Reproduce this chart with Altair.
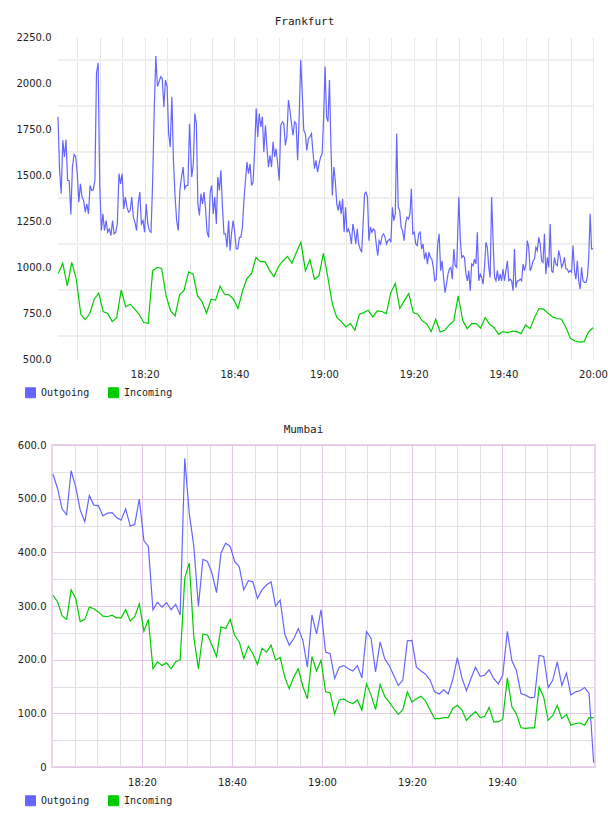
import altair as alt
import pandas as pd

BLUE = "#6666ff"
GREEN = "#00cc00"
DAY = "2024-05-14"

# ---------------- Frankfurt (20 s samples outgoing, 1 min incoming) ----------------
fra_out_q1 = [1816, 1525, 1398, 1689, 1598, 1692, 1470, 1470, 1285, 1543, 1612, 1601, 1507, 1352,
              1452, 1380, 1361, 1298, 1343, 1289, 1443, 1416, 1420, 1470, 2052, 2110, 1452, 1198,
              1289, 1198, 1252, 1189, 1207, 1170, 1252, 1180, 1189, 1234, 1507, 1452, 1507, 1316,
              1380, 1325, 1298, 1307, 1380, 1270, 1243, 1198, 1343, 1407, 1234, 1252, 1189, 1343,
              1234, 1198, 1189, 1452, 1852, 2147, 1980, 2007, 2034, 2025, 1870, 2016, 1980, 1725,
              1652, 1925, 1580, 1380, 1252, 1198, 1416, 1489, 1543, 1425, 1443, 1443, 1779]
fra_out_q2 = [1489, 1561, 1834, 1780, 1343, 1280, 1398, 1343, 1407, 1316, 1189, 1161, 1407, 1443,
              1289, 1380, 1234, 1489, 1416, 1525, 1325, 1180, 1180, 1107, 1252, 1089, 1189, 1252,
              1189, 1098, 1098, 1161, 1161, 1216, 1361, 1470, 1570, 1507, 1561, 1443, 1461, 1634,
              1861, 1707, 1834, 1761, 1816, 1625, 1770, 1652, 1543, 1607, 1543, 1680, 1598, 1643,
              1561, 1470, 1770, 1789, 1780, 1661, 1707, 1907, 1852, 1780, 1716, 1789, 1780, 1580,
              1816, 2125, 1943, 1743, 1725, 1634, 1698, 1707, 1725, 1625, 1534, 1580, 1516, 1561, 1598]
fra_out_q3 = [1616, 1816, 2089, 1816, 1789, 2016, 1670, 1389, 1543, 1470, 1343, 1307, 1361, 1289,
              1370, 1189, 1325, 1189, 1207, 1180, 1125, 1234, 1189, 1125, 1207, 1125, 1098, 1080,
              1234, 1398, 1407, 1380, 1143, 1216, 1189, 1207, 1198, 1125, 1061, 1143, 1125, 1170,
              1180, 1161, 1125, 1143, 1152, 1134, 1325, 1252, 1289, 1725, 1325, 1307, 1216, 1198,
              1143, 1234, 1270, 1261, 1289, 1425, 1180, 1189, 1125, 1116, 1180, 1189, 1098, 1125,
              1043, 1080, 1016, 1080, 1052, 1043, 998, 925, 934, 1125, 1180, 980, 1034, 943, 861,
              907, 961, 989, 998, 934, 1098, 1007, 998]
fra_out_q4 = [1380, 1161, 1052, 1061, 1052, 961, 925, 980, 871, 1016, 1007, 1043, 1016, 1189, 925,
              961, 943, 907, 998, 1134, 1107, 998, 943, 1380, 1143, 943, 925, 980, 925, 961, 925,
              989, 925, 980, 1034, 925, 934, 925, 871, 1098, 889, 925, 925, 934, 925, 1016, 980,
              1016, 1143, 1107, 980, 998, 1034, 1043, 1107, 1089, 1161, 1125, 1034, 1025, 1180,
              961, 1052, 998, 1234, 980, 971, 1052, 1016, 1007, 1089, 1052, 998, 1016, 1052, 989,
              989, 971, 980, 971, 1116, 980, 934, 1034, 925, 880, 998, 925, 916, 916, 943, 1052,
              1289, 1098, 1100]
fra_out_spans = [("18:00:40", "18:30:00"), ("18:30:30", "18:59:15"),
                 ("18:59:35", "19:29:36"), ("19:30:04", "20:00:00")]

fra_in = [965, 1021, 898, 1025, 934, 743, 714, 747, 825, 858, 758, 747, 703, 725, 874, 783, 798,
          771, 743, 698, 694, 980, 998, 992, 843, 761, 734, 849, 874, 974,
          961, 843, 812, 749, 825, 820, 896, 852, 849, 825, 774, 871, 938, 965, 1052, 1029, 1029,
          983, 947, 1003, 1034, 1058, 1020, 1080, 1134, 980, 1040, 934, 952, 1074,
          943, 798, 725, 703, 674, 694, 656, 743, 752, 765, 729, 761, 758, 747, 861, 911, 774,
          816, 856, 752, 743, 707, 692, 649, 716, 647, 656, 685, 707,
          843, 710, 665, 692, 692, 667, 725, 689, 670, 634, 649, 643, 652, 649, 638, 685, 665,
          725, 774, 771, 749, 729, 720, 716, 670, 612, 598, 592, 594, 647, 670]
fra_in_span = ("18:00:44", "20:00:00")
fra_window = ("18:00:40", "20:00:00")
fra_grid_levels = [625, 875, 1125, 1375, 1625, 1875, 2125]

# ---------------- Mumbai (1 min samples) ----------------
mum_out = [546, 519, 481, 470, 552, 522, 479, 457, 506, 488, 487, 468, 473, 474, 465, 460, 481,
           449, 452, 499, 422, 411, 293, 307, 298, 306, 293, 303, 283, 575, 473, 411, 299, 387,
           383, 361, 325, 399, 417, 411, 383, 373, 330, 347, 345, 314, 330, 339, 345, 300, 311,
           248, 227, 239, 258,
           236, 186, 283, 248, 293, 214, 211, 165, 186, 189, 183, 179, 189, 166, 252, 240, 177,
           233, 202, 189, 171, 152, 162, 235, 236, 186, 179, 173, 162, 140, 136, 144, 136, 163,
           204, 166, 142, 165, 186, 169, 171, 181, 165, 155, 171, 253, 198, 180, 137, 134, 129,
           130, 208, 206, 148, 162, 196, 152, 175, 134, 140, 142, 148, 137, 8]
mum_in = [320, 308, 282, 275, 330, 314, 271, 275, 298, 295, 289, 281, 280, 283, 278, 278, 293,
          272, 280, 304, 253, 275, 183, 196, 189, 194, 183, 196, 200, 352, 380, 242, 183, 248,
          246, 227, 206, 261, 258, 275, 245, 233, 202, 225, 211, 191, 221, 214, 227, 199, 204,
          168, 146, 168, 183,
          150, 127, 206, 179, 199, 140, 138, 99, 125, 127, 121, 118, 125, 106, 155, 134, 107,
          154, 132, 121, 109, 98, 107, 140, 121, 127, 132, 123, 106, 90, 90, 92, 92, 109, 115,
          106, 87, 96, 103, 92, 94, 111, 84, 84, 89, 166, 112, 99, 73, 72, 73, 73, 149, 130, 87,
          96, 115, 90, 98, 78, 81, 82, 78, 92, 92]
mum_span = ("18:00:13", "20:00:22")

SERIES = ["Outgoing", "Incoming"]


def stamp(hms):
    return pd.Timestamp(f"{DAY} {hms}")


def series_frame(values, span, name):
    times = pd.date_range(stamp(span[0]), stamp(span[1]), periods=len(values)).round("s")
    return pd.DataFrame({"time": times, "value": values, "series": name})


def dt(h, m, s=0):
    return alt.DateTime(year=2024, month=5, date=14, hours=h, minutes=m, seconds=s)


def five_min_ticks(first, last):
    out = []
    t = first
    while t <= last:
        out.append(dt(t // 60, t % 60))
        t += 5
    return out


fra_df = pd.concat(
    [series_frame(v, s, "Outgoing") for v, s in
     zip([fra_out_q1, fra_out_q2, fra_out_q3, fra_out_q4], fra_out_spans)]
    + [series_frame(fra_in, fra_in_span, "Incoming")],
    ignore_index=True)
mum_df = pd.concat([series_frame(mum_out, mum_span, "Outgoing"),
                    series_frame(mum_in, mum_span, "Incoming")], ignore_index=True)
fra_grid = pd.DataFrame({"value": fra_grid_levels,
                         "time": stamp(fra_window[0]), "t1": stamp(fra_window[1])})

LABEL_FONT = "DejaVu Sans"
MONO = "DejaVu Sans Mono"
TEXT = "#222222"
PINK = "#e3c8e3"
MINOR = "#e0e0e0"
HGRID = "#efefef"

time_labels = "minutes(datum.value) % 20 == 0 ? timeFormat(datum.value, '%H:%M') : ''"
color_scale = alt.Scale(domain=SERIES, range=[BLUE, GREEN])


def legend():
    return alt.Legend(
        title=None, orient="none", legendX=-27, legendY=350, direction="horizontal",
        symbolType="square", symbolSize=100, symbolStrokeWidth=1, symbolStrokeColor="#999999",
        symbolOpacity=1,
        labelFont=MONO, labelFontSize=10, labelColor=TEXT, labelOffset=5, columnPadding=16)


def title(text, dx):
    return alt.TitleParams(text, font=MONO, fontSize=11, fontWeight="normal", color=TEXT,
                           anchor="middle", dx=dx, dy=-1)


def series_layers(df, x_enc, y_enc):
    base = alt.Chart(df).encode(x=x_enc, y=y_enc)
    # zero-size filled squares only carry the swatch legend
    keys = base.mark_square(filled=True, size=0).encode(
        color=alt.Color("series:N", scale=color_scale, sort=SERIES, legend=legend()))
    lines = base.mark_line(strokeWidth=1.2).encode(
        color=alt.Color("series:N", scale=color_scale, sort=SERIES, legend=None))
    return [keys, lines]


# ---- Frankfurt: plot area starts 6 px right of the shared left edge ----
fra_x = alt.X("time:T", title=None,
              scale=alt.Scale(domain=[dt(18, 0, 40), dt(20, 0)], range=[6, 541]),
              axis=alt.Axis(values=five_min_ticks(18 * 60 + 5, 20 * 60), labelExpr=time_labels,
                            grid=True, gridColor="#e6e6e6", gridWidth=1, ticks=False,
                            domain=False, labelFont=LABEL_FONT, labelFontSize=10,
                            labelColor=TEXT, labelPadding=10, labelOverlap=False,
                            labelFlush=False))
fra_y = alt.Y("value:Q", title=None,
              scale=alt.Scale(domain=[500, 2250], nice=False, zero=False),
              axis=alt.Axis(values=list(range(500, 2251, 250)), format=".1f",
                            grid=False, ticks=False, domain=False, labelFont=LABEL_FONT,
                            labelFontSize=10, labelColor=TEXT, labelPadding=1,
                            labelOverlap=False, labelFlush=False, minExtent=51, maxExtent=51))

# horizontal guide lines between the labelled levels
fra_rules = alt.Chart(fra_grid).mark_rule(color=HGRID, strokeWidth=2).encode(
    x=fra_x, x2="t1:T", y=fra_y)

top = alt.layer(fra_rules, *series_layers(fra_df, fra_x, fra_y)).properties(
    width=541, height=322, title=title("Frankfurt", -18),
    view=alt.ViewBackground(stroke="transparent"))

# ---- Mumbai ----
mum_x = alt.X("time:T", title=None,
              scale=alt.Scale(domain=[dt(18, 0), dt(20, 0, 40)]),
              axis=alt.Axis(values=five_min_ticks(18 * 60 + 5, 19 * 60 + 55),
                            labelExpr=time_labels, grid=True, gridWidth=1,
                            gridColor={"condition": {"test": "minutes(datum.value) % 20 == 0",
                                                     "value": PINK}, "value": MINOR},
                            ticks=False, domain=False, labelFont=LABEL_FONT, labelFontSize=10,
                            labelColor=TEXT, labelPadding=10, labelOverlap=False,
                            labelFlush=False))
mum_y = alt.Y("value:Q", title=None,
              scale=alt.Scale(domain=[0, 600], nice=False),
              axis=alt.Axis(values=list(range(0, 601, 50)),
                            labelExpr="datum.value % 100 != 0 ? '' : (datum.value == 0 ? '0' : format(datum.value, '.1f'))",
                            grid=True, gridWidth=1,
                            gridColor={"condition": {"test": "datum.value % 100 == 0",
                                                     "value": PINK}, "value": MINOR},
                            ticks=False, domain=False, labelFont=LABEL_FONT, labelFontSize=10,
                            labelColor=TEXT, labelPadding=6, labelOverlap=False,
                            labelFlush=False, minExtent=51, maxExtent=51))

bottom = alt.layer(*series_layers(mum_df, mum_x, mum_y)).properties(
    width=543, height=322, title=title("Mumbai", -20),
    view=alt.ViewBackground(stroke="#ecd6ec", strokeWidth=2))

chart = alt.vconcat(top, bottom, spacing=22).properties(
    padding={"left": 0, "top": 15, "right": 0, "bottom": 0},
    background="white",
).resolve_legend(color="independent")

chart.save("out.html", embed_options={"renderer": "svg", "actions": False})
